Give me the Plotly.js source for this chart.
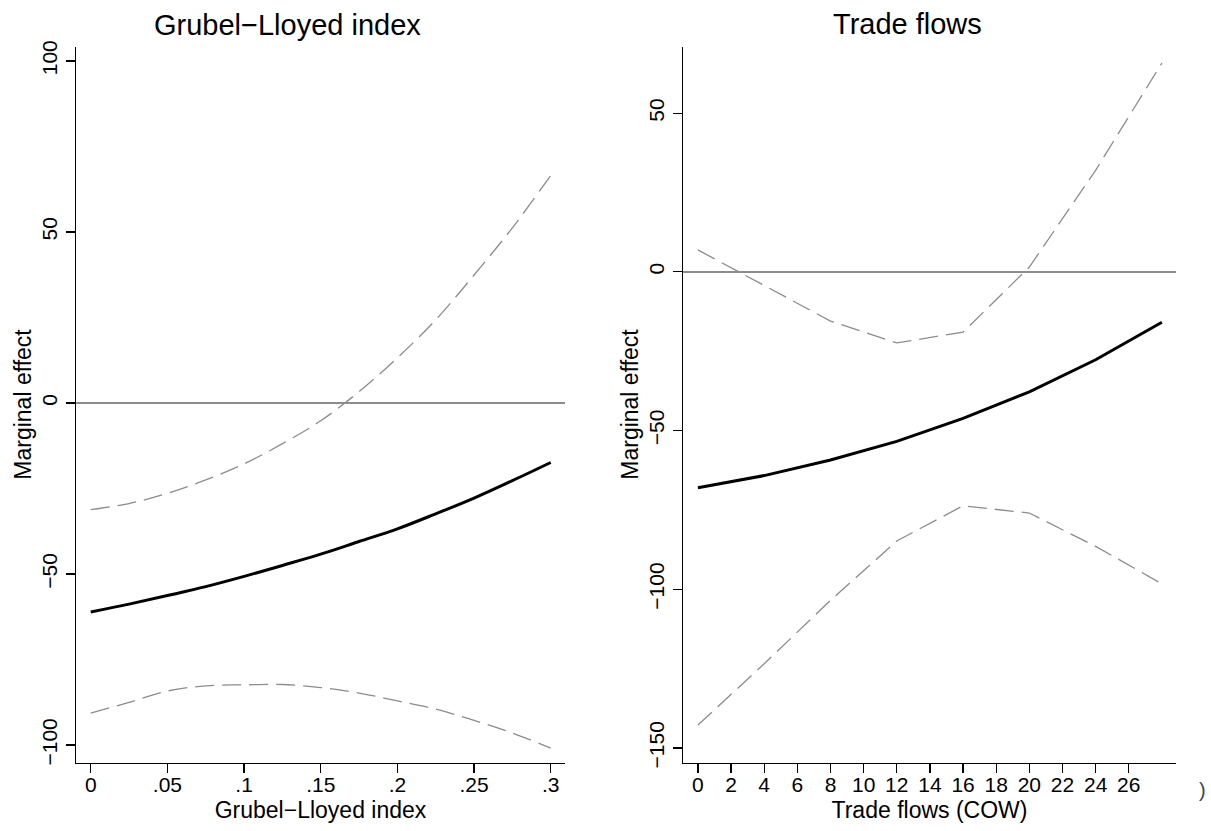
<!DOCTYPE html>
<html>
<head>
<meta charset="utf-8">
<script src="https://cdn.plot.ly/plotly-3.0.1.min.js"></script>
<style>
  html, body { margin: 0; padding: 0; background: #fff; }
  #chart { width: 1211px; height: 831px; }
</style>
</head>
<body>
<div id="chart"></div>
<script>
// Marginal effect over the Grubel–Lloyed index, with confidence bounds
const glIndex  = [0, 0.025, 0.05, 0.075, 0.1, 0.125, 0.15, 0.175, 0.2, 0.225, 0.25, 0.275, 0.3];
const glEffect = [-61.1, -58.8, -56.3, -53.7, -50.7, -47.5, -44.2, -40.5, -36.8, -32.4, -27.8, -22.7, -17.4];
const glUpper  = [-31.2, -29.4, -26.4, -22.5, -17.8, -11.9, -5.2, 3.3, 13.2, 24.3, 37.4, 51.2, 66.5];
const glLower  = [-90.7, -87.5, -84.2, -82.7, -82.4, -82.3, -83.2, -84.8, -87.1, -89.5, -92.8, -96.5, -100.9];

// Marginal effect over trade flows (COW), with confidence bounds
const tfFlows  = [0, 4, 8, 12, 16, 20, 24, 28];
const tfEffect = [-68.0, -64.2, -59.3, -53.4, -46.2, -37.8, -27.7, -15.9];
const tfUpper  = [6.9, -4.4, -15.5, -22.4, -19.0, 1.5, 32.0, 65.8];
const tfLower  = [-142.8, -123.5, -103.5, -84.8, -73.7, -76.0, -86.5, -98.3];

// Tick labels
const glTickVals = [0, 0.05, 0.1, 0.15, 0.2, 0.25, 0.3];
const glTickText = ['0', '.05', '.1', '.15', '.2', '.25', '.3'];
const tfTickVals = [0, 2, 4, 6, 8, 10, 12, 14, 16, 18, 20, 22, 24, 26];
const tfTickText = tfTickVals.map(String);
const glYTicks = [-100, -50, 0, 50, 100];
const tfYTicks = [-150, -100, -50, 0, 50];

const W = 1211, H = 831;
const px = v => v / W;
const py = v => 1 - v / H;

const FONT = 'Liberation Sans, Arial, Helvetica, sans-serif';
const bandColor = '#8c8c8c';

function effectTrace(x, y, xa, ya, smooth) {
  return { x, y, xaxis: xa, yaxis: ya, type: 'scatter', mode: 'lines',
    line: { color: '#000', width: 3, shape: smooth ? 'spline' : 'linear' },
    hoverinfo: 'x+y', showlegend: false };
}
function boundTrace(x, y, xa, ya, smooth) {
  return { x, y, xaxis: xa, yaxis: ya, type: 'scatter', mode: 'lines',
    line: { color: bandColor, width: 1.3, dash: '19px,8px', shape: smooth ? 'spline' : 'linear' },
    hoverinfo: 'x+y', showlegend: false };
}

const data = [
  boundTrace(glIndex, glUpper, 'x', 'y', true),
  boundTrace(glIndex, glLower, 'x', 'y', true),
  effectTrace(glIndex, glEffect, 'x', 'y', true),
  boundTrace(tfFlows, tfUpper, 'x2', 'y2', false),
  boundTrace(tfFlows, tfLower, 'x2', 'y2', false),
  effectTrace(tfFlows, tfEffect, 'x2', 'y2', false)
];

const axisBase = {
  showline: true, linecolor: '#000', linewidth: 1.3,
  ticks: 'outside', ticklen: 9, tickwidth: 1.3, tickcolor: '#000',
  showgrid: false, zeroline: false,
  tickfont: { family: FONT, size: 21, color: '#000' },
  automargin: false, fixedrange: true
};
const xBase = Object.assign({}, axisBase, { tickmode: 'array', ticklabelstandoff: -6 });
const yBase = Object.assign({}, axisBase, {
  zeroline: true, zerolinecolor: bandColor, zerolinewidth: 2,
  tickangle: -90, tickmode: 'array'
});

const yDomain = [py(762.5), py(46.5)];

const layout = {
  width: W, height: H,
  margin: { l: 0, r: 0, t: 0, b: 0 },
  paper_bgcolor: '#fff', plot_bgcolor: '#fff',
  font: { family: FONT, color: '#000' },
  showlegend: false,
  xaxis: Object.assign({}, xBase, {
    domain: [px(76), px(565)], anchor: 'y',
    range: [-0.0096, 0.3093],
    tickvals: glTickVals, ticktext: glTickText,
    title: { text: 'Grubel\u2212Lloyed index', font: { family: FONT, size: 23 }, standoff: 7 }
  }),
  yaxis: Object.assign({}, yBase, {
    domain: yDomain, anchor: 'x',
    range: [-105.1, 104.2], tickvals: glYTicks,
    title: { text: 'Marginal effect', font: { family: FONT, size: 23 }, standoff: 0 }
  }),
  xaxis2: Object.assign({}, xBase, {
    domain: [px(683), px(1176)], anchor: 'y2',
    range: [-0.9, 28.85],
    tickvals: tfTickVals, ticktext: tfTickText,
    title: { text: 'Trade flows (COW)', font: { family: FONT, size: 23 }, standoff: 7 }
  }),
  yaxis2: Object.assign({}, yBase, {
    domain: yDomain, anchor: 'x2',
    range: [-154.6, 71.0], tickvals: tfYTicks,
    title: { text: 'Marginal effect', font: { family: FONT, size: 23 }, standoff: 0 }
  }),
  annotations: [
    { text: 'Grubel\u2212Lloyed index', xref: 'paper', yref: 'paper',
      x: px(287), y: py(25), xanchor: 'center', yanchor: 'middle', showarrow: false,
      font: { family: FONT, size: 29, color: '#000' } },
    { text: 'Trade flows', xref: 'paper', yref: 'paper',
      x: px(907), y: py(24), xanchor: 'center', yanchor: 'middle', showarrow: false,
      font: { family: FONT, size: 29, color: '#000' } },
    { text: ')', xref: 'paper', yref: 'paper',
      x: px(1202), y: py(790), xanchor: 'center', yanchor: 'middle', showarrow: false,
      font: { family: FONT, size: 20, color: '#444' } }
  ]
};

Plotly.newPlot('chart', data, layout, { staticPlot: true, displayModeBar: false });
</script>
</body>
</html>
